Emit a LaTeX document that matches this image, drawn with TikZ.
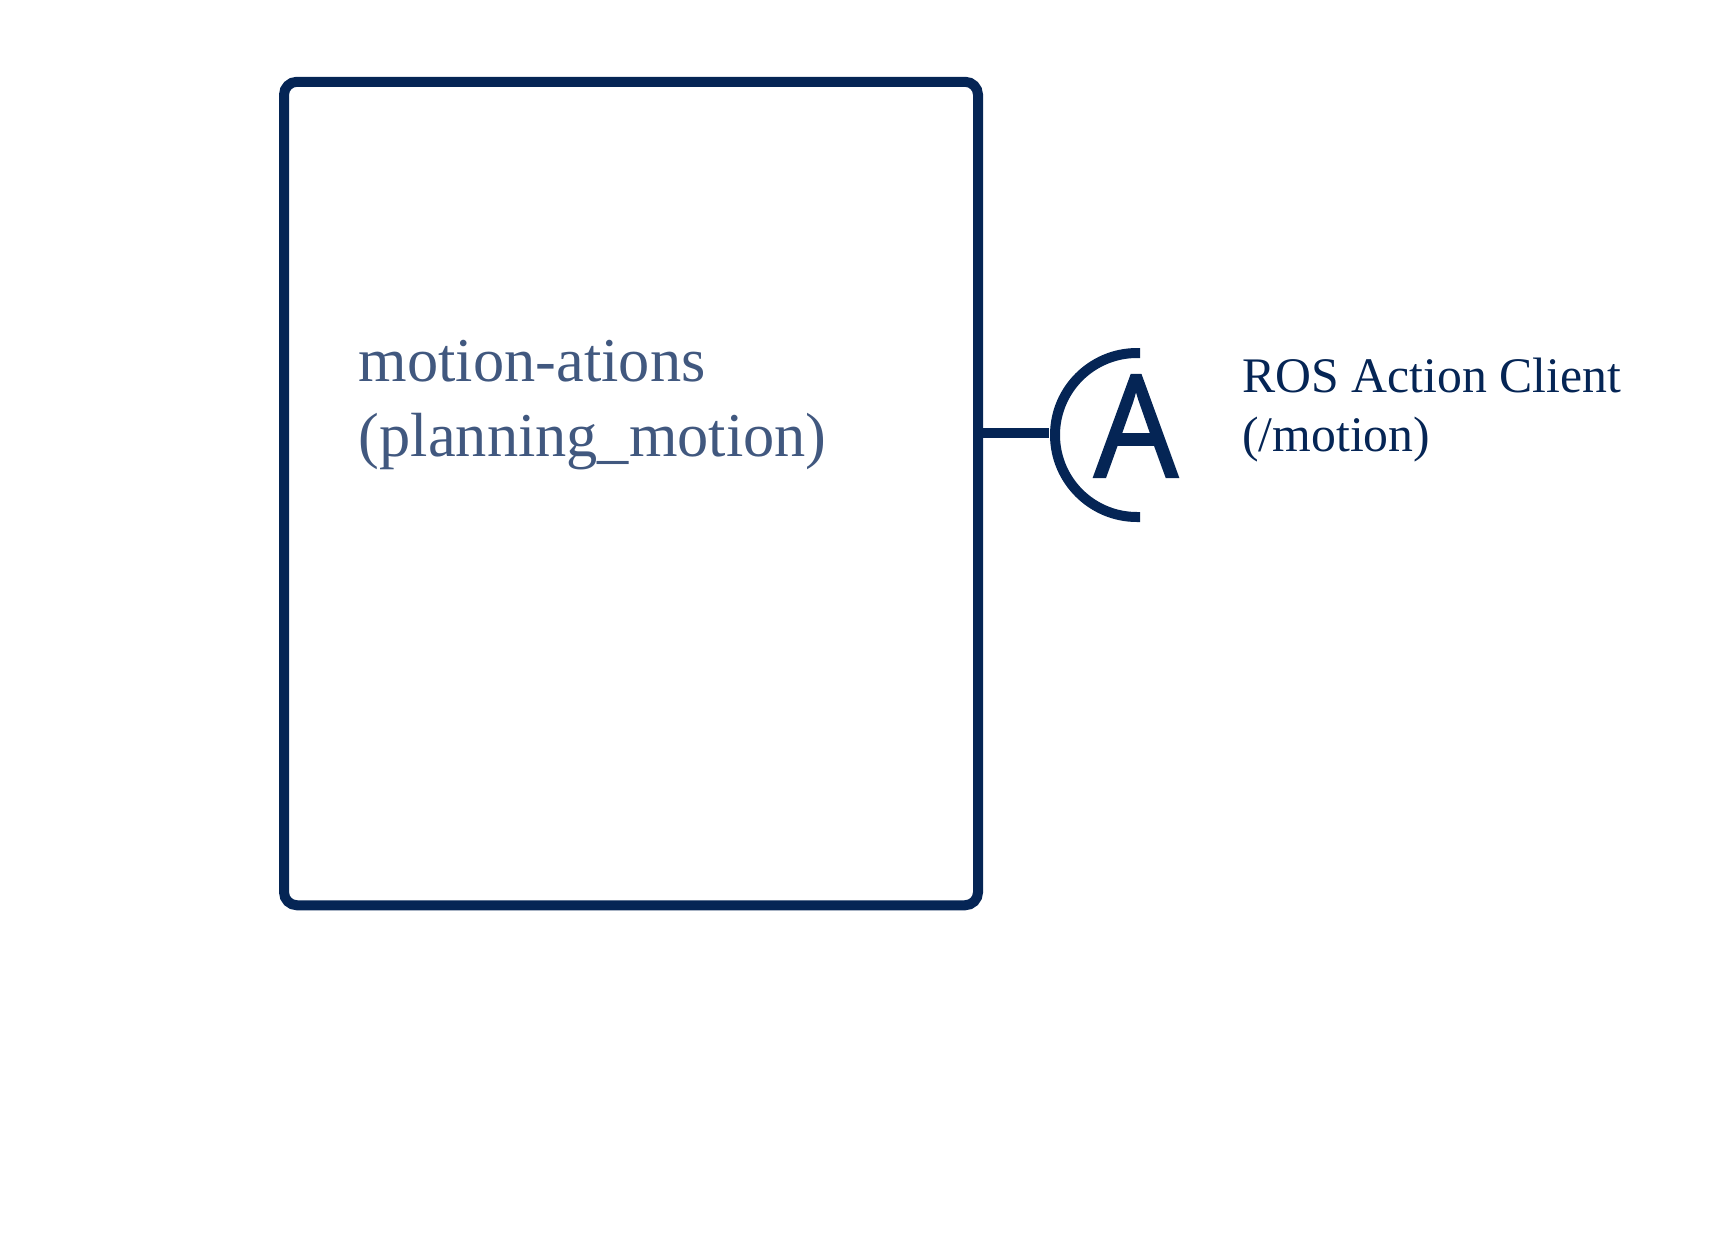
\documentclass[tikz,border=0pt]{standalone}
\usepackage{fontspec}
\setmainfont{Liberation Serif}
\newfontfamily\glyphfont[FakeBold=1.5,FakeStretch=0.93]{Open Sans}
\definecolor{rosnavy}{HTML}{052555}
\definecolor{rosslate}{HTML}{41587F}
\begin{document}
\begin{tikzpicture}[>=latex]
        \tikzset{
            package/.style={draw=rosnavy, line width=0.2cm, rounded corners=0.26cm, minimum width=13.88cm, minimum height=16.47cm, inner sep=0pt},
            wire/.style={draw=rosnavy, line width=0.2cm},
            pkglabel/.style={align=left, inner sep=0pt, text=rosslate, font=\fontsize{35.5}{42.5}\selectfont},
            rolelabel/.style={align=left, inner sep=0pt, text=rosnavy, font=\fontsize{28.3}{34}\selectfont}
        }
        \useasboundingbox (0, 0) rectangle (34.22, -24.76);

        \node[package] (motion) at (12.62, -9.87) {};
        \node[pkglabel, anchor=west] (motionlabel) at (7.17, -8.1) {motion-ations\\(planning\_motion)};

        \coordinate (socket) at (20.98, -8.66);
        \draw[wire] (socket) -- (motion.east |- socket);
        \draw[wire] (22.8, -7.06) -- (22.74, -7.06) arc[start angle=90, end angle=270, radius=1.64] -- (22.8, -10.34);

        \node[inner sep=0pt, text=rosnavy, font=\glyphfont\fontsize{81}{81}\selectfont] (actionglyph) at (22.72, -8.52) {A};
        \node[rolelabel, anchor=west] (clientlabel) at (24.84, -8.2) {ROS Action Client\\(/motion)};
    \end{tikzpicture}
\end{document}
